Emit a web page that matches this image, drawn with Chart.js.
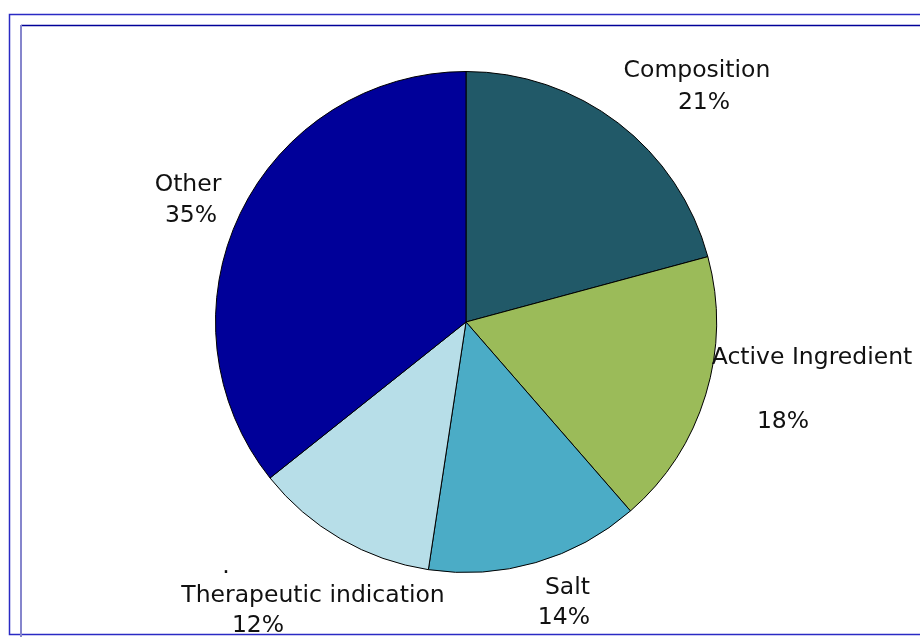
<!DOCTYPE html>
<html>
<head>
<meta charset="utf-8">
<script src="https://cdn.jsdelivr.net/npm/chart.js@4/dist/chart.umd.min.js"></script>
<style>
  html, body { margin: 0; padding: 0; background: #ffffff; }
  #wrap { position: relative; width: 920px; height: 637px; }
</style>
</head>
<body>
<div id="wrap"><canvas id="c" width="920" height="637"></canvas></div>
<script>
// ---- data ----
const categories = ['Composition', 'Active Ingredient', 'Salt', 'Therapeutic indication', 'Other'];
const shares = [20.8, 17.8, 13.8, 11.9, 35.7];
const percentLabels = ['21%', '18%', '14%', '12%', '35%'];
const sliceColors = ['#215968', '#9BBB59', '#4BACC6', '#B7DEE8', '#000099'];

// label layout (text lines: [text, x, y, align])
const labelLayout = [
  [[categories[0], 697, 71, 'center'], [percentLabels[0], 704, 103, 'center']],
  [[categories[1], 812, 358, 'center'], [percentLabels[1], 783, 422, 'center']],
  [[categories[2], 590, 588, 'right'], [percentLabels[2], 590, 618, 'right']],
  [['.', 226, 567, 'center'], [categories[3], 313, 596, 'center'], [percentLabels[3], 258, 626, 'center']],
  [[categories[4], 188, 185, 'center'], [percentLabels[4], 191, 216, 'center']]
];

const framePlugin = {
  id: 'frameAndLabels',
  beforeDraw(chart) {
    const ctx = chart.ctx;
    ctx.save();
    ctx.fillStyle = '#ffffff';
    ctx.fillRect(0, 0, chart.width, chart.height);
    ctx.restore();
  },
  afterDraw(chart) {
    const ctx = chart.ctx;
    ctx.save();
    // clip labels to outer frame
    ctx.beginPath();
    ctx.rect(10, 15, 910, 619);
    ctx.clip();
    ctx.fillStyle = '#111111';
    ctx.font = '23.5px "DejaVu Sans", Verdana, sans-serif';
    ctx.textBaseline = 'middle';
    labelLayout.forEach(lines => {
      lines.forEach(([t, x, y, a]) => {
        ctx.textAlign = a;
        ctx.fillText(t, x, y);
      });
    });
    ctx.restore();

    ctx.save();
    // outer frame
    ctx.lineWidth = 1.5;
    ctx.strokeStyle = '#2a2ac4';
    ctx.beginPath();
    ctx.moveTo(925, 14.5);
    ctx.lineTo(9.5, 14.5);
    ctx.lineTo(9.5, 634.5);
    ctx.lineTo(925, 634.5);
    ctx.stroke();
    // inner frame
    ctx.lineWidth = 1.5;
    ctx.strokeStyle = '#000099';
    ctx.beginPath();
    ctx.moveTo(21, 25.5);
    ctx.lineTo(925, 25.5);
    ctx.stroke();
    ctx.lineWidth = 2;
    ctx.strokeStyle = '#8585cc';
    ctx.beginPath();
    ctx.moveTo(21, 25);
    ctx.lineTo(21, 640);
    ctx.stroke();
    ctx.restore();
  }
};

new Chart(document.getElementById('c'), {
  type: 'pie',
  data: {
    labels: categories,
    datasets: [{
      data: shares,
      backgroundColor: sliceColors,
      borderColor: '#000000',
      borderWidth: 1,
      hoverOffset: 0
    }]
  },
  options: {
    responsive: false,
    animation: false,
    devicePixelRatio: 1,
    layout: { padding: { left: 215, right: 203, top: 71, bottom: 64 } },
    plugins: {
      legend: { display: false },
      tooltip: { enabled: false }
    }
  },
  plugins: [framePlugin]
});
</script>
</body>
</html>
